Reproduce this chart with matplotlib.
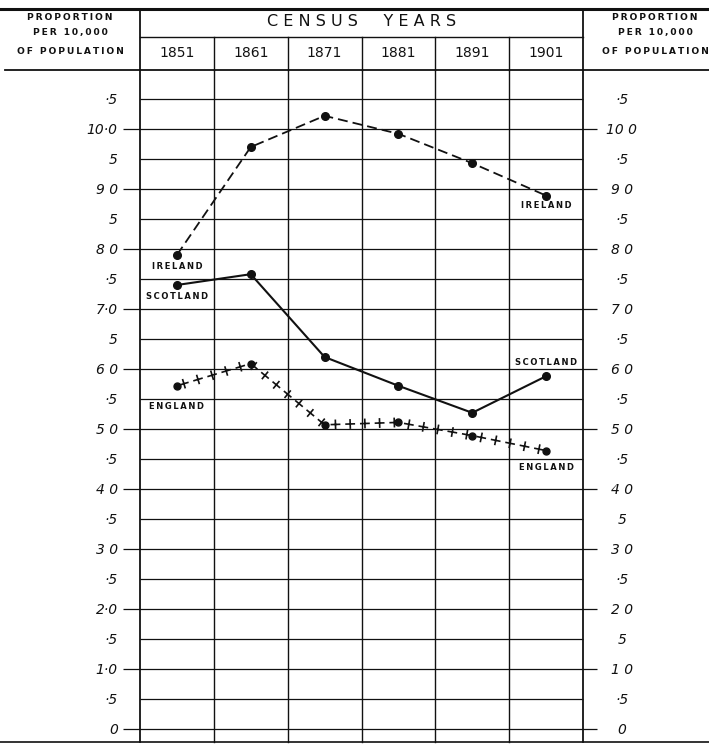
import matplotlib
matplotlib.use("Agg")
import matplotlib.pyplot as plt
import matplotlib.transforms as mtransforms
import matplotlib.patheffects as pe
from matplotlib import font_manager as fm
import numpy as np

# ---------------- data ----------------
years = ["1851", "1861", "1871", "1881", "1891", "1901"]
ireland = [7.90, 9.70, 10.22, 9.92, 9.43, 8.89]
scotland = [7.40, 7.58, 6.20, 5.72, 5.27, 5.88]
england = [5.72, 6.09, 5.07, 5.11, 4.89, 4.64]

tick_values = [0, 0.5, 1, 1.5, 2, 2.5, 3, 3.5, 4, 4.5, 5, 5.5, 6, 6.5, 7, 7.5,
               8, 8.5, 9, 9.5, 10, 10.5]
left_labels = ["0", "·5", "1·0", "·5", "2·0", "·5", "3 0", "·5", "4 0", "·5",
               "5 0", "·5", "6 0", "5", "7·0", "·5", "8 0", "5", "9 0", "5",
               "10·0", "·5"]
right_labels = ["0", "·5", "1 0", "5", "2 0", "·5", "3 0", "5", "4 0", "·5",
                "5 0", "·5", "6 0", "·5", "7 0", "·5", "8 0", "·5", "9 0", "·5",
                "10 0", "·5"]
header_side = ["PROPORTION", "PER 10,000", "OF POPULATION"]
header_top = "CENSUS  YEARS"


def spaced(s, sep="\u2009"):
    return sep.join(list(s))


def have(name):
    try:
        fm.findfont(fm.FontProperties(family=name), fallback_to_default=False)
        return True
    except Exception:
        return False


narrow = "Liberation Sans Narrow" if have("Liberation Sans Narrow") else "DejaVu Sans"

W, H = 709, 745
fig = plt.figure(figsize=(W / 100, H / 100), dpi=100)
fig.patch.set_facecolor("white")


def fy(py):
    return 1 - py / H


# data axes: frame from x=140..583 px, y=70..742 px ; value 0 at 729 px, 60 px per unit
ax = fig.add_axes([140 / W, 1 - 742 / H, 443 / W, 672 / H])
ax.patch.set_visible(False)
ax.set_xlim(-0.5, len(years) - 0.5)
ax.set_ylim(-13 / 60, (729 - 70) / 60)
for s in ax.spines.values():
    s.set_visible(False)
ax.set_xticks([])

ink = "#111111"

# horizontal grid lines
for v in tick_values:
    if float(v).is_integer():
        ax.hlines(v, -0.038, 1.032, transform=ax.get_yaxis_transform(),
                  color=ink, lw=0.9, clip_on=False, zorder=1)
    else:
        ax.hlines(v, 0, 1, transform=ax.get_yaxis_transform(),
                  color=ink, lw=0.9, clip_on=False, zorder=1)

# vertical column lines
blend = mtransforms.blended_transform_factory(ax.transData, fig.transFigure)
n = len(years)
for i in range(n + 1):
    xb = i - 0.5
    edge = i in (0, n)
    ax.axvline(xb, color=ink, lw=1.3 if edge else 1.0, zorder=1, clip_on=False)
    ytop = 9 if edge else 37
    ax.plot([xb, xb], [fy(ytop), fy(70)], transform=blend, color=ink,
            lw=1.3 if edge else 1.0, clip_on=False)

# year labels
for i, yr in enumerate(years):
    ax.text(i, fy(53), yr, transform=blend, ha="center", va="center",
            fontsize=10, family=narrow, color=ink)

# tick labels
ax.set_yticks(tick_values)
ax.set_yticklabels(left_labels)
ax.tick_params(axis="y", length=0, pad=16, labelsize=10)
for t in ax.get_yticklabels():
    t.set_fontstyle("italic")
    t.set_color(ink)

ax2 = ax.twinx()
ax2.set_ylim(ax.get_ylim())
for s in ax2.spines.values():
    s.set_visible(False)
ax2.patch.set_visible(False)
ax2.set_yticks(tick_values)
ax2.set_yticklabels(right_labels)
ax2.tick_params(axis="y", length=0, pad=28, labelsize=10)
for t in ax2.get_yticklabels():
    t.set_fontstyle("italic")
    t.set_ha("center")
    t.set_color(ink)

x = np.arange(n)
# Ireland - dashed
ax.plot(x, ireland, color=ink, lw=1.3, linestyle=(0, (5.5, 2.8)), zorder=3)
ax.plot(x, ireland, "o", color=ink, ms=5.5, zorder=4)
# Scotland - solid
ax.plot(x, scotland, color=ink, lw=1.5, zorder=3)
ax.plot(x, scotland, "o", color=ink, ms=5.5, zorder=4)
# England - crosses along the line
cross = [pe.TickedStroke(spacing=10.5, angle=a, length=0.28, linewidth=1.2)
         for a in (0, 90, 180, -90)]
ax.plot(x, england, color=ink, lw=1.2, zorder=3, path_effects=cross)
ax.plot(x, england, "o", color=ink, ms=5, mfc=ink, zorder=4)

# series labels
lab_kw = dict(fontsize=6, fontweight="bold", color=ink, ha="center",
              va="center", zorder=5)
ax.annotate(spaced("IRELAND"), (0, ireland[0]), xytext=(0, -8),
            textcoords="offset points", **lab_kw)
ax.annotate(spaced("SCOTLAND"), (0, scotland[0]), xytext=(0, -8),
            textcoords="offset points", **lab_kw)
ax.annotate(spaced("ENGLAND"), (0, england[0]), xytext=(0, -15),
            textcoords="offset points", **lab_kw)
ax.annotate(spaced("IRELAND"), (n - 1, ireland[-1]), xytext=(0, -7),
            textcoords="offset points", **lab_kw)
ax.annotate(spaced("SCOTLAND"), (n - 1, scotland[-1]), xytext=(0, 10),
            textcoords="offset points", **lab_kw)
ax.annotate(spaced("ENGLAND"), (n - 1, england[-1]), xytext=(0, -12),
            textcoords="offset points", **lab_kw)

# overlay for header rules and texts
ov = fig.add_axes([0, 0, 1, 1], zorder=-1)
ov.set_xlim(0, W)
ov.set_ylim(H, 0)
ov.axis("off")
ov.plot([0, W], [9, 9], color=ink, lw=2.2)
ov.plot([140, 583], [37, 37], color=ink, lw=1.0)
ov.plot([5, W], [70, 70], color=ink, lw=1.3)
ov.plot([0, W], [742, 742], color=ink, lw=1.2)

ov.text(361.5, 21, spaced(header_top, " "), ha="center", va="center",
        fontsize=11.5, color=ink)
for cx in (70, 655):
    for txt, yy in zip(header_side, (17, 33, 52)):
        ov.text(cx, yy, spaced(txt), ha="center", va="center",
                fontsize=6.6, fontweight="semibold", color=ink)

fig.savefig("out.png", dpi=100, facecolor="white")
